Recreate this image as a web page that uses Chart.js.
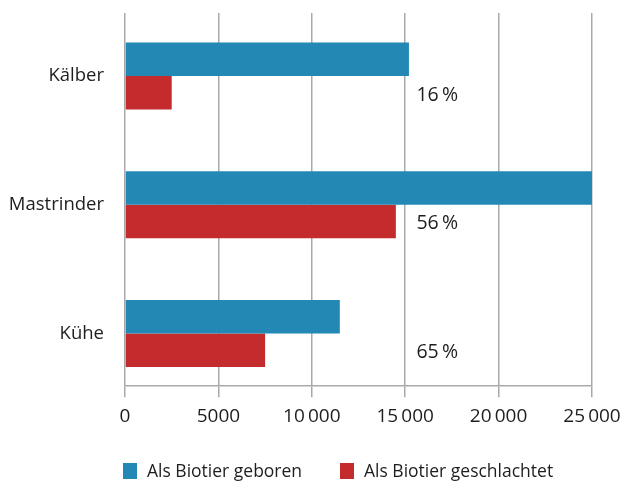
<!DOCTYPE html>
<html>
<head>
<meta charset="utf-8">
<script src="https://cdn.jsdelivr.net/npm/chart.js@4"></script>
<style>
  html, body { margin: 0; padding: 0; background: #fff; }
  #wrap { position: relative; width: 630px; height: 484px; }
  #legend { position: absolute; left: 0; top: 459px; width: 630px; height: 22px;
            font-family: "Open Sans", sans-serif; font-size: 17.5px; color: #1e1e1e; }
  .item { position: absolute; top: 0; white-space: nowrap; line-height: 22px; }
  .box { position: absolute; left: 0; top: 4px; width: 14px; height: 16px; }
  .item span { position: absolute; left: 24px; top: 0; }
</style>
</head>
<body>
<div id="wrap">
  <canvas id="chart" width="630" height="484"></canvas>
  <div id="legend"></div>
</div>
<script>
var categories = ["Kälber", "Mastrinder", "Kühe"];
var geboren = [15200, 25000, 11500];
var geschlachtet = [2500, 14500, 7500];
var anteil = ["16\u2009%", "56\u2009%", "65\u2009%"];
var xTicks = [0, 5000, 10000, 15000, 20000, 25000];

var seriesNames = ["Als Biotier geboren", "Als Biotier geschlachtet"];
var seriesColors = ["#2389b4", "#c42b2d"];
var FONT = '"Open Sans", sans-serif';
var TEXT = "#1e1e1e";
var GRID = "#a9a9a9";

function fmt(v) {
  if (v < 10000) return String(v);
  var s = String(v);
  return s.slice(0, s.length - 3) + "\u2009" + s.slice(-3);
}

function toPoints(values) {
  return values.map(function (v, i) { return { x: v, y: i }; });
}

// Prozent-Angaben rechts neben den Balkenpaaren
var shareLabels = {
  id: "shareLabels",
  afterDatasetsDraw: function (chart) {
    var ctx = chart.ctx;
    var xs = chart.scales.x, ys = chart.scales.y;
    ctx.save();
    ctx.font = "19.5px " + FONT;
    ctx.fillStyle = TEXT;
    ctx.textAlign = "left";
    ctx.textBaseline = "middle";
    anteil.forEach(function (t, i) {
      ctx.fillText(t, xs.getPixelForValue(15600), ys.getPixelForValue(i) + 19);
    });
    ctx.restore();
  }
};

new Chart(document.getElementById("chart"), {
  type: "bar",
  data: {
    datasets: [
      { label: seriesNames[0], data: toPoints(geboren), backgroundColor: seriesColors[0] },
      { label: seriesNames[1], data: toPoints(geschlachtet), backgroundColor: seriesColors[1] }
    ]
  },
  options: {
    indexAxis: "y",
    responsive: false,
    animation: false,
    categoryPercentage: 0.52,
    barPercentage: 1,
    layout: { padding: { left: 0, right: 38, top: 13, bottom: 48 } },
    plugins: { legend: { display: false }, tooltip: { enabled: false } },
    scales: {
      x: {
        type: "linear",
        min: 0,
        max: 25000,
        afterBuildTicks: function (s) {
          s.ticks = xTicks.map(function (v) { return { value: v }; });
        },
        grid: { color: GRID, lineWidth: 1.5, tickLength: 11, drawTicks: true },
        border: { display: true, color: GRID, width: 1.5 },
        ticks: {
          padding: 8,
          color: TEXT,
          font: { family: FONT, size: 19 },
          maxRotation: 0,
          callback: function (v) { return fmt(v); }
        }
      },
      y: {
        type: "linear",
        reverse: true,
        offset: false,
        min: -0.49,
        max: 2.41,
        afterBuildTicks: function (s) {
          s.ticks = categories.map(function (c, i) { return { value: i }; });
        },
        afterFit: function (s) {
          s.width = 125;
          s.paddingTop = 0;
          s.paddingBottom = 0;
        },
        grid: { display: false, drawTicks: false },
        border: { display: false },
        ticks: {
          padding: 21,
          color: TEXT,
          font: { family: FONT, size: 18.5 },
          callback: function (v) { return categories[v]; }
        }
      }
    }
  },
  plugins: [shareLabels]
});

// Legende
var legendX = [123, 340];
var legend = document.getElementById("legend");
seriesNames.forEach(function (name, i) {
  var item = document.createElement("div");
  item.className = "item";
  item.style.left = legendX[i] + "px";
  item.innerHTML = '<div class="box" style="background:' + seriesColors[i] + '"></div><span>' + name + "</span>";
  legend.appendChild(item);
});
</script>
</body>
</html>
